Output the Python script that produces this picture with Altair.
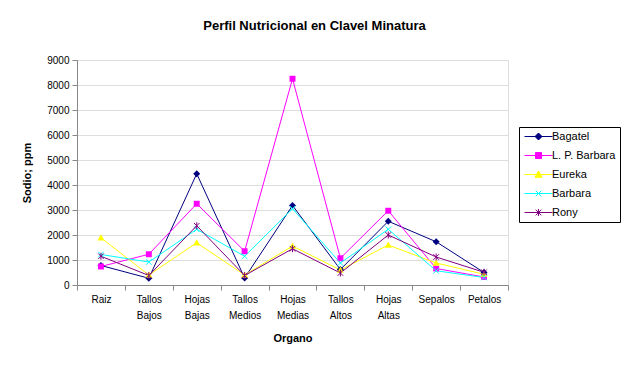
import altair as alt
import pandas as pd

organos = ["Raiz", "Tallos Bajos", "Hojas Bajas", "Tallos Medios", "Hojas Medias",
           "Tallos Altos", "Hojas Altas", "Sepalos", "Petalos"]
series = ["Bagatel", "L. P. Barbara", "Eureka", "Barbara", "Rony"]
colors = ["#000080", "#FF00FF", "#FFFF00", "#00FFFF", "#800080"]

bagatel = [780, 270, 4450, 280, 3180, 620, 2550, 1730, 500]
lp_barbara = [740, 1230, 3250, 1350, 8250, 1070, 2970, 660, 320]
eureka = [1890, 400, 1690, 400, 1560, 600, 1600, 880, 430]
barbara = [1220, 920, 2230, 1150, 3050, 880, 2230, 570, 300]
rony = [1150, 380, 2370, 380, 1450, 480, 2000, 1120, 510]

values = [bagatel, lp_barbara, eureka, barbara, rony]
filled_series = ["Bagatel", "L. P. Barbara", "Eureka"]

rows = []
for s, vals in zip(series, values):
    for o, v in zip(organos, vals):
        rows.append({"Organo": o, "Serie": s, "SerieL": s, "Sodio": v})
df = pd.DataFrame(rows)

# marker shapes (unit paths, size 49 -> r = 3.5 px)
shape_paths = [
    "M0,-1L1,0L0,1L-1,0Z",
    "M-0.85,-0.85L0.85,-0.85L0.85,0.85L-0.85,0.85Z",
    "M0,-1L1,0.8L-1,0.8Z",
    "M-0.8,-0.8L0.8,0.8M0.8,-0.8L-0.8,0.8",
    "M-0.8,-0.8L0.8,0.8M0.8,-0.8L-0.8,0.8M0,-1L0,1",
]
# legend symbols: line segment + marker (size 64 -> r = 4 px)
LN = "M-1,0L6,0"
legend_paths = [
    LN + "M2.5,-0.875L3.375,0L2.5,0.875L1.625,0Z",
    LN + "M1.75,-0.75L3.25,-0.75L3.25,0.75L1.75,0.75Z",
    LN + "M2.5,-0.875L3.375,0.7L1.625,0.7Z",
    LN + "M1.8,-0.7L3.2,0.7M3.2,-0.7L1.8,0.7",
    LN + "M1.8,-0.7L3.2,0.7M3.2,-0.7L1.8,0.7M2.5,-0.875L2.5,0.875",
]

font = "Liberation Sans"

color_scale = alt.Scale(domain=series, range=colors)

x_enc = alt.X(
    "Organo:N",
    sort=organos,
    scale=alt.Scale(type="band", paddingInner=0, paddingOuter=0),
    axis=alt.Axis(
        title="Organo",
        labelAngle=0,
        labelExpr="split(datum.label, ' ')",
        labelLineHeight=16,
        tickBand="extent",
        tickSize=5,
        labelPadding=4,
        titlePadding=12,
        grid=False,
    ),
)
y_enc = alt.Y(
    "Sodio:Q",
    scale=alt.Scale(domain=[0, 9000], nice=False),
    axis=alt.Axis(
        title="Sodio; ppm",
        values=list(range(0, 9001, 1000)),
        format="d",
        tickSize=5,
        labelPadding=3,
        titlePadding=14,
        grid=True,
    ),
)

base = alt.Chart(df).encode(x=x_enc, y=y_enc)

lines = base.mark_line(strokeWidth=1).encode(
    color=alt.Color("Serie:N", scale=color_scale, sort=series, legend=None),
    detail="Serie:N",
)

shape_enc = alt.Shape("Serie:N", scale=alt.Scale(domain=series, range=shape_paths),
                      sort=series, legend=None)

pts_filled = base.transform_filter(
    alt.FieldOneOfPredicate(field="Serie", oneOf=filled_series)
).mark_point(filled=True, size=49, opacity=1).encode(
    color=alt.Color("Serie:N", scale=color_scale, sort=series, legend=None),
    shape=shape_enc,
)

pts_open = base.transform_filter(
    ~alt.FieldOneOfPredicate(field="Serie", oneOf=filled_series)
).mark_point(filled=False, size=49, strokeWidth=1, opacity=1).encode(
    color=alt.Color("Serie:N", scale=color_scale, sort=series, legend=None),
    shape=shape_enc,
)

legend_spec = alt.Legend(
    title=None,
    orient="none",
    legendX=442,
    legendY=67,
    strokeColor="black",
    fillColor="white",
    padding=4,
    labelFont=font,
    labelFontSize=11,
    labelColor="black",
    labelOffset=18,
    rowPadding=7,
    symbolSize=64,
    symbolStrokeWidth=1,
    symbolOpacity=1,
)

legend_layer = base.transform_filter("datum.Sodio < 0").mark_point(
    filled=True, size=64, strokeWidth=1, opacity=1
).encode(
    fill=alt.Fill("SerieL:N", scale=alt.Scale(domain=series, range=colors), sort=series,
                  legend=legend_spec),
    stroke=alt.Stroke("SerieL:N", scale=alt.Scale(domain=series, range=colors), sort=series,
                      legend=legend_spec),
    shape=alt.Shape("SerieL:N", scale=alt.Scale(domain=series, range=legend_paths), sort=series,
                    legend=legend_spec),
)

chart = (
    alt.layer(lines, pts_filled, pts_open, legend_layer)
    .resolve_scale(shape="independent", fill="independent", stroke="independent")
    .properties(
        width=431,
        height=225,
        title=alt.TitleParams(
            "Perfil Nutricional en Clavel Minatura",
            font=font,
            fontSize=13,
            fontWeight="bold",
            color="black",
            dx=22,
            offset=22,
        ),
        autosize=alt.AutoSizeParams(type="none"),
        padding={"left": 69, "top": 52, "right": 113, "bottom": 70},
    )
    .configure_view(stroke=None)
    .configure_axis(
        domainColor="black",
        tickColor="black",
        gridColor="black",
        gridOpacity=1,
        gridWidth=1,
        labelFont=font,
        labelFontSize=11,
        labelColor="black",
        titleFont=font,
        titleFontSize=12,
        titleFontWeight="bold",
        titleColor="black",
    )
    .configure(background="white")
)

chart.save("out.html", embed_options={"renderer": "svg", "actions": False})
